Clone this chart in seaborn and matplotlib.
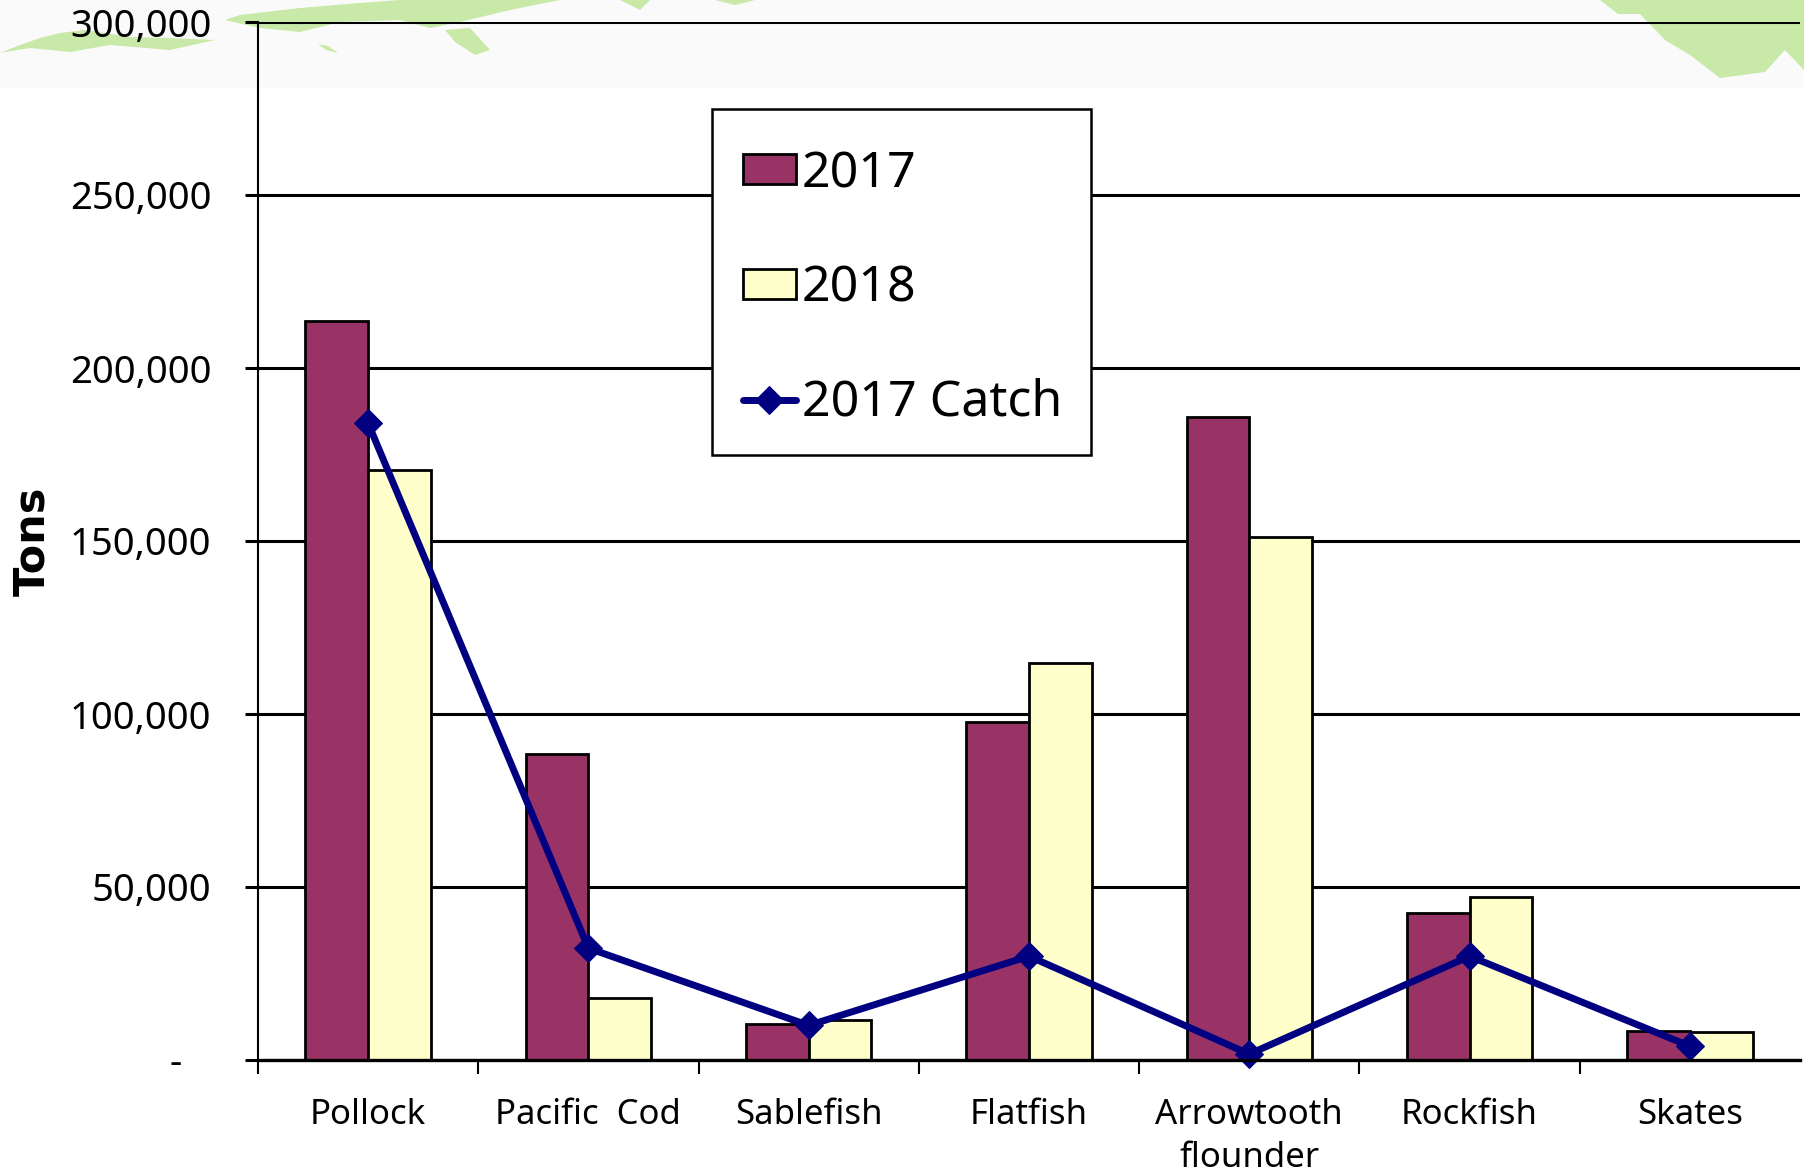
import matplotlib
matplotlib.use("Agg")
import matplotlib.pyplot as plt
from matplotlib.patches import Polygon, Rectangle
from matplotlib.ticker import FixedLocator, FixedFormatter
import pandas as pd
import seaborn as sns

categories = ["Pollock", "Pacific  Cod", "Sablefish", "Flatfish",
              "Arrowtooth\nflounder", "Rockfish", "Skates"]
values_2017 = [213500, 88300, 10300, 97600, 185800, 42600, 8300]
values_2018 = [170500, 18000, 11500, 114600, 151200, 47000, 8000]
catch_2017 = [184000, 32300, 10000, 30000, 1700, 30000, 4000]
y_ticks = [0, 50000, 100000, 150000, 200000, 250000, 300000]
y_labels = ["-   ", "50,000", "100,000", "150,000", "200,000", "250,000", "300,000"]

W, H = 1804, 1174
AX_TOP, AX_BOTTOM = 22, 1060
sns.set_theme(style="white")
plt.rcParams["font.family"] = ["Noto Sans", "DejaVu Sans"]
fig = plt.figure(figsize=(W / 100, H / 100), dpi=100, facecolor="white")


def px(points):
    return [(x, H - y) for x, y in points]


# slide background band with faint islands
fig.add_artist(Rectangle((0, H - 88), W, 88, transform=None, fc="#fafafa", ec="none", zorder=-5))
GREEN = "#c8e9a8"
for shape in [
    [(0, 53), (20, 45), (40, 38), (60, 33), (85, 30), (130, 37), (170, 38), (215, 40),
     (170, 50), (110, 45), (70, 52), (30, 48)],
    [(225, 20), (240, 15), (300, 8), (360, 3), (400, 0), (560, 0), (510, 10), (460, 22),
     (430, 28), (400, 20), (340, 22), (300, 32), (260, 28)],
    [(318, 44), (328, 46), (338, 53), (326, 50)],
    [(445, 30), (470, 28), (490, 50), (475, 55), (455, 42)],
    [(620, 0), (640, 10), (650, 0)],
    [(715, 0), (755, 0), (735, 5)],
    [(1600, 0), (1804, 0), (1804, 70), (1785, 50), (1765, 72), (1720, 78), (1690, 55),
     (1665, 40), (1640, 14), (1618, 14)],
]:
    fig.add_artist(Polygon(px(shape), closed=True, transform=None, fc=GREEN, ec="none", zorder=-4))

ax = fig.add_axes([258 / W, (H - AX_BOTTOM) / H, (1800 - 258) / W, (AX_BOTTOM - AX_TOP) / H])
ax.patch.set_alpha(0)

df = pd.DataFrame({
    "category": categories * 2,
    "tons": values_2017 + values_2018,
    "year": ["2017"] * 7 + ["2018"] * 7,
})
sns.barplot(data=df, x="category", y="tons", hue="year", order=categories,
            palette={"2017": "#993366", "2018": "#FFFFCC"}, width=0.57, gap=0,
            edgecolor="black", linewidth=2, saturation=1, ax=ax, zorder=3)
for patch in ax.patches:
    patch.set_clip_on(False)
sns.lineplot(x=categories, y=catch_2017, color="#000080", linewidth=5, marker="D",
             markersize=14, markeredgecolor="#000080", label="2017 Catch", ax=ax,
             zorder=5, clip_on=False, sort=False, errorbar=None)

ax.set_xlim(-0.5, 6.5)
ax.set_ylim(0, 300000)
ax.set_xlabel("")
ax.set_ylabel("Tons", fontsize=31, fontweight="bold", color="black", labelpad=0,
              family=["DejaVu Sans"])
ax.yaxis.set_label_coords((53 - 258) / (1800 - 258), (AX_BOTTOM - 541) / (AX_BOTTOM - AX_TOP))

ax.yaxis.set_major_locator(FixedLocator(y_ticks))
ax.yaxis.set_major_formatter(FixedFormatter(y_labels))
ax.grid(axis="y", color="black", linewidth=2.2, zorder=1)
ax.set_axisbelow(True)
ax.tick_params(axis="y", which="major", length=9.5, width=2.2, color="black", left=True,
               labelsize=27.5, labelcolor="black", pad=24)
ax.xaxis.set_major_locator(FixedLocator(range(7)))
ax.xaxis.set_major_formatter(FixedFormatter(categories))
ax.xaxis.set_minor_locator(FixedLocator([i - 0.5 for i in range(7)]))
ax.tick_params(axis="x", which="major", length=0, labelsize=25, labelcolor="black", pad=27)
ax.tick_params(axis="x", which="minor", length=10, width=1.5, color="black", bottom=True)
for label in ax.get_xticklabels():
    label.set_linespacing(1.38)

ax.spines["top"].set_visible(False)
ax.spines["right"].set_visible(False)
ax.spines["left"].set_color("black")
ax.spines["left"].set_linewidth(1.5)
ax.spines["bottom"].set_color("black")
ax.spines["bottom"].set_linewidth(2.4)
ax.spines["bottom"].set_zorder(6)

# legend frame has its own fixed box, the legend's entries sit inside it
ax.add_patch(Rectangle((712, H - 455), 379, 346, transform=None, fc="white", ec="black",
                       linewidth=1.8, clip_on=False, zorder=9))
handles, labels = ax.get_legend_handles_labels()
leg = ax.legend(handles, labels, loc="upper left",
                bbox_to_anchor=((704 - 258) / (1800 - 258), (AX_BOTTOM - 110) / (AX_BOTTOM - AX_TOP)),
                borderaxespad=0, fontsize=36, frameon=False, labelspacing=1.29, borderpad=0.78,
                handlelength=1.05, handleheight=0.55, handletextpad=0.12)
leg.set_zorder(10)
for t in leg.get_texts():
    t.set_color("black")

fig.savefig("out.png", dpi=100, facecolor=fig.get_facecolor())
